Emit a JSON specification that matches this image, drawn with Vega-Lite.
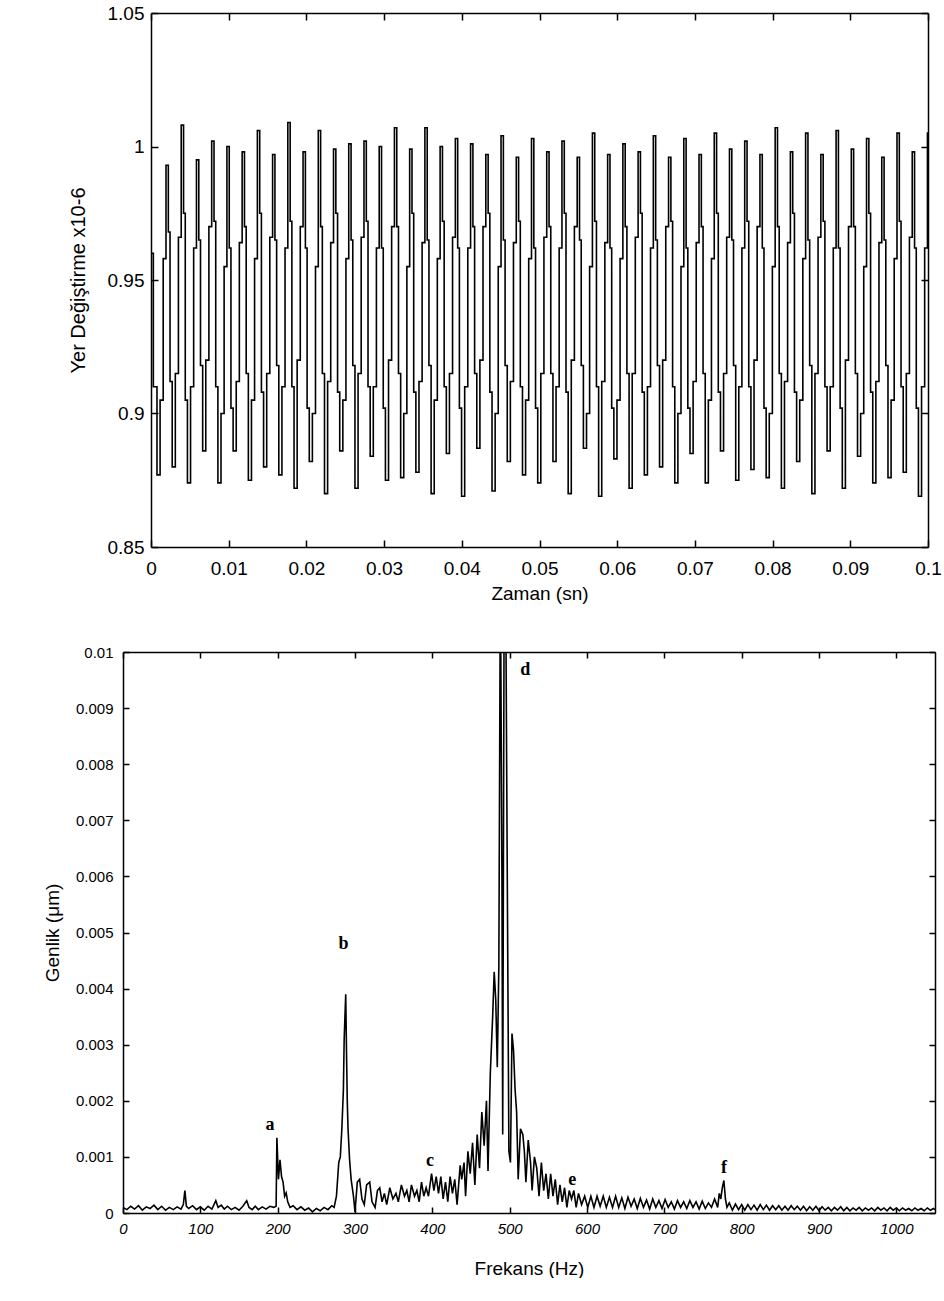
{
  "$schema": "https://vega.github.io/schema/vega-lite/v6.json",
  "background": "white",
  "padding": {"left": 36, "top": 4, "right": 0, "bottom": 0},
  "spacing": 42,
  "config": {
    "view": {"stroke": null},
    "axis": {"grid": false, "domainColor": "#000", "tickColor": "#000", "labelColor": "#000", "titleColor": "#000", "titleFontWeight": "normal", "labelFont": "Liberation Sans", "titleFont": "Liberation Sans", "domainWidth": 1.5, "tickWidth": 1.5, "labelFlush": false, "labelOverlap": false}
  },
  "vconcat": [
    {
      "spacing": 25,
      "hconcat": [
        {"width": 1, "height": 10, "data": {"values": [{"s": 0}]}, "mark": {"type": "point", "opacity": 0}, "encoding": {}},
        {
          "width": 777,
          "height": 534,
          "data": {"values": [
            {"t":0,"v":0.96},{"t":0.0003,"v":0.91},
            {"t":0.00077,"v":0.877},{"t":0.00117,"v":0.905},{"t":0.00157,"v":0.958},{"t":0.00193,"v":0.993},{"t":0.00223,"v":0.968},{"t":0.00245,"v":0.912},
            {"t":0.00273,"v":0.88},{"t":0.00313,"v":0.915},{"t":0.00353,"v":0.966},{"t":0.00389,"v":1.008},{"t":0.00419,"v":0.975},{"t":0.00441,"v":0.905},
            {"t":0.00469,"v":0.874},{"t":0.00509,"v":0.91},{"t":0.00549,"v":0.962},{"t":0.00585,"v":0.995},{"t":0.00615,"v":0.965},{"t":0.00637,"v":0.918},
            {"t":0.00665,"v":0.886},{"t":0.00705,"v":0.92},{"t":0.00745,"v":0.97},{"t":0.00781,"v":1.002},{"t":0.00811,"v":0.972},{"t":0.00833,"v":0.91},
            {"t":0.00861,"v":0.874},{"t":0.00901,"v":0.9},{"t":0.00941,"v":0.955},{"t":0.00977,"v":1.0},{"t":0.01007,"v":0.962},{"t":0.01029,"v":0.902},
            {"t":0.01057,"v":0.886},{"t":0.01097,"v":0.912},{"t":0.01137,"v":0.964},{"t":0.01173,"v":0.998},{"t":0.01203,"v":0.97},{"t":0.01225,"v":0.915},
            {"t":0.01253,"v":0.875},{"t":0.01293,"v":0.905},{"t":0.01333,"v":0.958},{"t":0.01369,"v":1.006},{"t":0.01399,"v":0.975},{"t":0.01421,"v":0.908},
            {"t":0.01449,"v":0.88},{"t":0.01489,"v":0.915},{"t":0.01529,"v":0.966},{"t":0.01565,"v":0.997},{"t":0.01595,"v":0.965},{"t":0.01617,"v":0.918},
            {"t":0.01645,"v":0.877},{"t":0.01685,"v":0.91},{"t":0.01725,"v":0.962},{"t":0.01761,"v":1.009},{"t":0.01791,"v":0.972},{"t":0.01813,"v":0.91},
            {"t":0.01841,"v":0.872},{"t":0.01881,"v":0.92},{"t":0.01921,"v":0.97},{"t":0.01957,"v":0.998},{"t":0.01987,"v":0.962},{"t":0.02009,"v":0.902},
            {"t":0.02037,"v":0.882},{"t":0.02077,"v":0.9},{"t":0.02117,"v":0.955},{"t":0.02153,"v":1.006},{"t":0.02183,"v":0.97},{"t":0.02205,"v":0.915},
            {"t":0.02233,"v":0.87},{"t":0.02273,"v":0.912},{"t":0.02313,"v":0.964},{"t":0.02349,"v":0.999},{"t":0.02379,"v":0.975},{"t":0.02401,"v":0.908},
            {"t":0.02429,"v":0.886},{"t":0.02469,"v":0.905},{"t":0.02509,"v":0.958},{"t":0.02545,"v":1.001},{"t":0.02575,"v":0.965},{"t":0.02597,"v":0.918},
            {"t":0.02625,"v":0.872},{"t":0.02665,"v":0.915},{"t":0.02705,"v":0.966},{"t":0.02741,"v":1.002},{"t":0.02771,"v":0.972},{"t":0.02793,"v":0.91},
            {"t":0.02821,"v":0.884},{"t":0.02861,"v":0.91},{"t":0.02901,"v":0.962},{"t":0.02937,"v":1.0},{"t":0.02967,"v":0.962},{"t":0.02989,"v":0.902},
            {"t":0.03017,"v":0.875},{"t":0.03057,"v":0.92},{"t":0.03097,"v":0.97},{"t":0.03133,"v":1.007},{"t":0.03163,"v":0.97},{"t":0.03185,"v":0.915},
            {"t":0.03213,"v":0.876},{"t":0.03253,"v":0.9},{"t":0.03293,"v":0.955},{"t":0.03329,"v":0.999},{"t":0.03359,"v":0.975},{"t":0.03381,"v":0.908},
            {"t":0.03409,"v":0.878},{"t":0.03449,"v":0.912},{"t":0.03489,"v":0.964},{"t":0.03525,"v":1.007},{"t":0.03555,"v":0.965},{"t":0.03577,"v":0.918},
            {"t":0.03605,"v":0.87},{"t":0.03645,"v":0.905},{"t":0.03685,"v":0.958},{"t":0.03721,"v":1.0},{"t":0.03751,"v":0.972},{"t":0.03773,"v":0.91},
            {"t":0.03801,"v":0.885},{"t":0.03841,"v":0.915},{"t":0.03881,"v":0.966},{"t":0.03917,"v":1.003},{"t":0.03947,"v":0.962},{"t":0.03969,"v":0.902},
            {"t":0.03997,"v":0.869},{"t":0.04037,"v":0.91},{"t":0.04077,"v":0.962},{"t":0.04113,"v":1.001},{"t":0.04143,"v":0.97},{"t":0.04165,"v":0.915},
            {"t":0.04193,"v":0.887},{"t":0.04233,"v":0.92},{"t":0.04273,"v":0.97},{"t":0.04309,"v":0.997},{"t":0.04339,"v":0.975},{"t":0.04361,"v":0.908},
            {"t":0.04389,"v":0.871},{"t":0.04429,"v":0.9},{"t":0.04469,"v":0.955},{"t":0.04505,"v":1.004},{"t":0.04535,"v":0.965},{"t":0.04557,"v":0.918},
            {"t":0.04585,"v":0.882},{"t":0.04625,"v":0.912},{"t":0.04665,"v":0.964},{"t":0.04701,"v":0.996},{"t":0.04731,"v":0.972},{"t":0.04753,"v":0.91},
            {"t":0.04781,"v":0.877},{"t":0.04821,"v":0.905},{"t":0.04861,"v":0.958},{"t":0.04897,"v":1.003},{"t":0.04927,"v":0.962},{"t":0.04949,"v":0.902},
            {"t":0.04977,"v":0.874},{"t":0.05017,"v":0.915},{"t":0.05057,"v":0.966},{"t":0.05093,"v":0.998},{"t":0.05123,"v":0.97},{"t":0.05145,"v":0.915},
            {"t":0.05173,"v":0.882},{"t":0.05213,"v":0.91},{"t":0.05253,"v":0.962},{"t":0.05289,"v":1.002},{"t":0.05319,"v":0.975},{"t":0.05341,"v":0.908},
            {"t":0.05369,"v":0.87},{"t":0.05409,"v":0.92},{"t":0.05449,"v":0.97},{"t":0.05485,"v":0.996},{"t":0.05515,"v":0.965},{"t":0.05537,"v":0.918},
            {"t":0.05565,"v":0.887},{"t":0.05605,"v":0.9},{"t":0.05645,"v":0.955},{"t":0.05681,"v":1.005},{"t":0.05711,"v":0.972},{"t":0.05733,"v":0.91},
            {"t":0.05761,"v":0.869},{"t":0.05801,"v":0.912},{"t":0.05841,"v":0.964},{"t":0.05877,"v":0.997},{"t":0.05907,"v":0.962},{"t":0.05929,"v":0.902},
            {"t":0.05957,"v":0.883},{"t":0.05997,"v":0.905},{"t":0.06037,"v":0.958},{"t":0.06073,"v":1.001},{"t":0.06103,"v":0.97},{"t":0.06125,"v":0.915},
            {"t":0.06153,"v":0.872},{"t":0.06193,"v":0.915},{"t":0.06233,"v":0.966},{"t":0.06269,"v":0.998},{"t":0.06299,"v":0.975},{"t":0.06321,"v":0.908},
            {"t":0.06349,"v":0.877},{"t":0.06389,"v":0.91},{"t":0.06429,"v":0.962},{"t":0.06465,"v":1.004},{"t":0.06495,"v":0.965},{"t":0.06517,"v":0.918},
            {"t":0.06545,"v":0.88},{"t":0.06585,"v":0.92},{"t":0.06625,"v":0.97},{"t":0.06661,"v":0.996},{"t":0.06691,"v":0.972},{"t":0.06713,"v":0.91},
            {"t":0.06741,"v":0.874},{"t":0.06781,"v":0.9},{"t":0.06821,"v":0.955},{"t":0.06857,"v":1.003},{"t":0.06887,"v":0.962},{"t":0.06909,"v":0.902},
            {"t":0.06937,"v":0.885},{"t":0.06977,"v":0.912},{"t":0.07017,"v":0.964},{"t":0.07053,"v":0.997},{"t":0.07083,"v":0.97},{"t":0.07105,"v":0.915},
            {"t":0.07133,"v":0.874},{"t":0.07173,"v":0.905},{"t":0.07213,"v":0.958},{"t":0.07249,"v":1.005},{"t":0.07279,"v":0.975},{"t":0.07301,"v":0.908},
            {"t":0.07329,"v":0.886},{"t":0.07369,"v":0.915},{"t":0.07409,"v":0.966},{"t":0.07445,"v":0.999},{"t":0.07475,"v":0.965},{"t":0.07497,"v":0.918},
            {"t":0.07525,"v":0.875},{"t":0.07565,"v":0.91},{"t":0.07605,"v":0.962},{"t":0.07641,"v":1.002},{"t":0.07671,"v":0.972},{"t":0.07693,"v":0.91},
            {"t":0.07721,"v":0.879},{"t":0.07761,"v":0.92},{"t":0.07801,"v":0.97},{"t":0.07837,"v":0.997},{"t":0.07867,"v":0.962},{"t":0.07889,"v":0.902},
            {"t":0.07917,"v":0.876},{"t":0.07957,"v":0.9},{"t":0.07997,"v":0.955},{"t":0.08033,"v":1.007},{"t":0.08063,"v":0.97},{"t":0.08085,"v":0.915},
            {"t":0.08113,"v":0.872},{"t":0.08153,"v":0.912},{"t":0.08193,"v":0.964},{"t":0.08229,"v":0.998},{"t":0.08259,"v":0.975},{"t":0.08281,"v":0.908},
            {"t":0.08309,"v":0.882},{"t":0.08349,"v":0.905},{"t":0.08389,"v":0.958},{"t":0.08425,"v":1.005},{"t":0.08455,"v":0.965},{"t":0.08477,"v":0.918},
            {"t":0.08505,"v":0.87},{"t":0.08545,"v":0.915},{"t":0.08585,"v":0.966},{"t":0.08621,"v":0.997},{"t":0.08651,"v":0.972},{"t":0.08673,"v":0.91},
            {"t":0.08701,"v":0.886},{"t":0.08741,"v":0.91},{"t":0.08781,"v":0.962},{"t":0.08817,"v":1.006},{"t":0.08847,"v":0.962},{"t":0.08869,"v":0.902},
            {"t":0.08897,"v":0.872},{"t":0.08937,"v":0.92},{"t":0.08977,"v":0.97},{"t":0.09013,"v":0.999},{"t":0.09043,"v":0.97},{"t":0.09065,"v":0.915},
            {"t":0.09093,"v":0.884},{"t":0.09133,"v":0.9},{"t":0.09173,"v":0.955},{"t":0.09209,"v":1.003},{"t":0.09239,"v":0.975},{"t":0.09261,"v":0.908},
            {"t":0.09289,"v":0.874},{"t":0.09329,"v":0.912},{"t":0.09369,"v":0.964},{"t":0.09405,"v":0.996},{"t":0.09435,"v":0.965},{"t":0.09457,"v":0.918},
            {"t":0.09485,"v":0.876},{"t":0.09525,"v":0.905},{"t":0.09565,"v":0.958},{"t":0.09601,"v":1.005},{"t":0.09631,"v":0.972},{"t":0.09653,"v":0.91},
            {"t":0.09681,"v":0.878},{"t":0.09721,"v":0.915},{"t":0.09761,"v":0.966},{"t":0.09797,"v":0.998},{"t":0.09827,"v":0.962},{"t":0.09849,"v":0.902},
            {"t":0.09877,"v":0.869},{"t":0.09917,"v":0.91},{"t":0.09957,"v":0.962},{"t":0.09993,"v":1.005},{"t":0.1,"v":0.99}
          ]},
          "layer": [
            {
              "mark": {"type": "line", "interpolate": "step-after", "color": "#000", "strokeWidth": 1.6, "clip": true},
              "encoding": {
                "x": {"field": "t", "type": "quantitative", "scale": {"domain": [0, 0.1], "nice": false, "zero": false},
                  "axis": {"orient": "bottom", "values": [0,0.01,0.02,0.03,0.04,0.05,0.06,0.07,0.08,0.09,0.1], "format": "~g", "title": "Zaman (sn)", "labelFontSize": 19, "titleFontSize": 19, "tickSize": -7, "labelPadding": 19, "titlePadding": 7, "minExtent": 30, "maxExtent": 30}},
                "y": {"field": "v", "type": "quantitative", "scale": {"domain": [0.85, 1.05], "nice": false, "zero": false},
                  "axis": {"orient": "left", "values": [0.85,0.9,0.95,1,1.05], "format": "~g", "title": "Yer Değiştirme x10-6", "labelFontSize": 19, "titleFontSize": 20, "tickSize": -7, "labelPadding": 14, "titlePadding": 17, "minExtent": 46, "maxExtent": 46}}
              }
            },
            {
              "mark": {"type": "line", "opacity": 0},
              "encoding": {
                "x": {"field": "t", "type": "quantitative", "scale": {"domain": [0, 0.1], "nice": false, "zero": false},
                  "axis": {"orient": "top", "values": [0,0.01,0.02,0.03,0.04,0.05,0.06,0.07,0.08,0.09,0.1], "labels": false, "title": null, "tickSize": -7}},
                "y": {"field": "v", "type": "quantitative", "scale": {"domain": [0.85, 1.05], "nice": false, "zero": false},
                  "axis": {"orient": "right", "values": [0.85,0.9,0.95,1,1.05], "labels": false, "title": null, "tickSize": -7}}
              }
            }
          ],
          "resolve": {"axis": {"x": "independent", "y": "independent"}}
        }
      ]
    },
    {
      "spacing": 0,
      "hconcat": [
        {"width": 1, "height": 10, "data": {"values": [{"s": 0}]}, "mark": {"type": "point", "opacity": 0}, "encoding": {}},
        {
          "width": 812,
          "height": 561,
          "layer": [
            {
              "data": {"values": [
                {"f":0,"a":0.0001},{"f":5,"a":0.00006},{"f":10,"a":0.00012},{"f":15,"a":0.00007},{"f":20,"a":0.00013},{"f":25,"a":0.00005},{"f":30,"a":0.00011},{"f":35,"a":0.00008},{"f":40,"a":0.00014},{"f":45,"a":0.00006},
                {"f":50,"a":0.00012},{"f":55,"a":0.00005},{"f":60,"a":0.0001},{"f":65,"a":0.00006},{"f":70,"a":0.00011},{"f":75,"a":0.00007},{"f":78,"a":0.00015},{"f":80,"a":0.0004},{"f":82,"a":0.00012},{"f":85,"a":0.00008},
                {"f":90,"a":0.00013},{"f":95,"a":0.00006},{"f":100,"a":0.00011},{"f":105,"a":0.00005},{"f":110,"a":0.00012},{"f":115,"a":0.00007},{"f":120,"a":0.00022},{"f":123,"a":0.0001},{"f":127,"a":0.00014},{"f":131,"a":0.00007},
                {"f":135,"a":0.00012},{"f":140,"a":0.00006},{"f":145,"a":0.0001},{"f":150,"a":0.00005},{"f":155,"a":0.00012},{"f":160,"a":0.00022},{"f":163,"a":0.0001},{"f":167,"a":0.00006},{"f":171,"a":0.00012},{"f":175,"a":0.00006},
                {"f":180,"a":0.00011},{"f":185,"a":0.00007},{"f":190,"a":0.00012},{"f":195,"a":0.0001},{"f":198,"a":0.00012},{"f":199,"a":0.00134},{"f":201,"a":0.0006},{"f":203,"a":0.00095},{"f":205,"a":0.00065},{"f":207,"a":0.00055},
                {"f":209,"a":0.0003},{"f":211,"a":0.00036},{"f":213,"a":0.0002},{"f":216,"a":0.0001},{"f":220,"a":0.00013},{"f":225,"a":0.00006},{"f":230,"a":0.00011},{"f":235,"a":0.00005},{"f":240,"a":0.00009},{"f":245,"a":0.00002},
                {"f":250,"a":0.00008},{"f":255,"a":0.00004},{"f":260,"a":0.0001},{"f":265,"a":0.00006},{"f":270,"a":0.00013},{"f":273,"a":0.0001},{"f":276,"a":0.0003},{"f":279,"a":0.0009},{"f":281,"a":0.001},{"f":283,"a":0.0015},
                {"f":285,"a":0.0022},{"f":286,"a":0.0031},{"f":288,"a":0.0039},{"f":289,"a":0.0029},{"f":290,"a":0.002},{"f":291,"a":0.0015},{"f":293,"a":0.00095},{"f":295,"a":0.0006},{"f":298,"a":0.0003},{"f":300,"a":0.00002},
                {"f":303,"a":0.00055},{"f":306,"a":0.0006},{"f":309,"a":0.00025},{"f":312,"a":0.00015},{"f":315,"a":0.0005},{"f":319,"a":0.00055},{"f":322,"a":0.0002},{"f":326,"a":0.0001},{"f":329,"a":0.0004},{"f":332,"a":0.00045},
                {"f":335,"a":0.0002},{"f":338,"a":0.00035},{"f":341,"a":0.00015},{"f":345,"a":0.00045},{"f":349,"a":0.00025},{"f":353,"a":0.00035},{"f":356,"a":0.0002},{"f":360,"a":0.0005},{"f":364,"a":0.0003},{"f":367,"a":0.0004},
                {"f":370,"a":0.0002},{"f":373,"a":0.0005},{"f":377,"a":0.0003},{"f":380,"a":0.0004},{"f":383,"a":0.0002},{"f":386,"a":0.00055},{"f":389,"a":0.0003},{"f":392,"a":0.00045},{"f":395,"a":0.0003},{"f":399,"a":0.0007},
                {"f":402,"a":0.0004},{"f":405,"a":0.00065},{"f":408,"a":0.00035},{"f":411,"a":0.00065},{"f":414,"a":0.00025},{"f":417,"a":0.00055},{"f":420,"a":0.0002},{"f":423,"a":0.00065},{"f":426,"a":0.00035},{"f":429,"a":0.0006},
                {"f":432,"a":0.00015},{"f":436,"a":0.00085},{"f":438,"a":0.0006},{"f":441,"a":0.0009},{"f":443,"a":0.0003},{"f":446,"a":0.0011},{"f":449,"a":0.0007},{"f":452,"a":0.00125},{"f":455,"a":0.0005},{"f":458,"a":0.0014},
                {"f":461,"a":0.0008},{"f":464,"a":0.0018},{"f":467,"a":0.0012},{"f":470,"a":0.002},{"f":472,"a":0.00075},{"f":475,"a":0.0025},{"f":478,"a":0.0035},{"f":480,"a":0.0043},{"f":482,"a":0.0038},{"f":484,"a":0.0026},
                {"f":486,"a":0.0044},{"f":488,"a":0.0115},{"f":490,"a":0.006},{"f":491,"a":0.0014},{"f":493,"a":0.0118},{"f":495,"a":0.0108},{"f":497,"a":0.0058},{"f":499,"a":0.0011},{"f":501,"a":0.0009},{"f":503,"a":0.0032},
                {"f":505,"a":0.0029},{"f":507,"a":0.0022},{"f":509,"a":0.0018},{"f":511,"a":0.0006},{"f":514,"a":0.0015},{"f":517,"a":0.0014},{"f":519,"a":0.0011},{"f":521,"a":0.00055},{"f":524,"a":0.0013},{"f":527,"a":0.0009},
                {"f":529,"a":0.0004},{"f":532,"a":0.001},{"f":535,"a":0.0008},{"f":538,"a":0.0003},{"f":541,"a":0.0009},{"f":544,"a":0.0004},{"f":547,"a":0.0007},{"f":550,"a":0.00025},{"f":553,"a":0.0007},{"f":556,"a":0.0003},
                {"f":559,"a":0.0006},{"f":562,"a":0.00015},{"f":565,"a":0.0005},{"f":568,"a":0.0002},{"f":571,"a":0.00045},{"f":574,"a":0.0001},{"f":577,"a":0.0004},{"f":580,"a":0.00025},{"f":583,"a":0.0004},{"f":586,"a":0.0001},
                {"f":589,"a":0.00035},{"f":593,"a":0.00015},{"f":597,"a":0.0003},{"f":601,"a":0.0001},{"f":605,"a":0.0003},{"f":609,"a":0.0001},{"f":613,"a":0.0003},{"f":617,"a":0.00012},{"f":621,"a":0.0003},{"f":625,"a":0.0001},
                {"f":629,"a":0.00028},{"f":633,"a":0.0001},{"f":637,"a":0.0003},{"f":641,"a":0.0001},{"f":645,"a":0.00027},{"f":649,"a":0.00008},{"f":653,"a":0.00028},{"f":657,"a":0.00012},{"f":661,"a":0.00025},{"f":665,"a":0.00008},
                {"f":669,"a":0.00026},{"f":673,"a":0.0001},{"f":677,"a":0.00023},{"f":681,"a":0.00007},{"f":685,"a":0.00025},{"f":689,"a":0.0001},{"f":693,"a":0.00022},{"f":697,"a":0.00008},{"f":701,"a":0.00024},{"f":705,"a":0.0001},
                {"f":709,"a":0.0002},{"f":713,"a":0.00007},{"f":717,"a":0.00022},{"f":721,"a":0.0001},{"f":725,"a":0.0002},{"f":729,"a":0.00008},{"f":733,"a":0.00022},{"f":737,"a":0.0001},{"f":741,"a":0.0002},{"f":745,"a":0.00007},
                {"f":749,"a":0.00021},{"f":753,"a":0.00008},{"f":757,"a":0.00018},{"f":761,"a":0.0001},{"f":765,"a":0.00025},{"f":769,"a":0.0001},{"f":771,"a":0.00035},{"f":773,"a":0.00025},{"f":775,"a":0.00045},{"f":777,"a":0.00058},
                {"f":779,"a":0.00025},{"f":781,"a":0.0001},{"f":784,"a":0.00018},{"f":788,"a":0.00005},{"f":792,"a":0.00016},{"f":796,"a":0.00006},{"f":800,"a":0.00015},{"f":804,"a":0.00005},{"f":808,"a":0.00015},{"f":812,"a":0.00006},
                {"f":816,"a":0.00014},{"f":820,"a":0.00005},{"f":824,"a":0.00015},{"f":828,"a":0.00006},{"f":832,"a":0.00014},{"f":836,"a":0.00005},{"f":840,"a":0.00013},{"f":844,"a":0.00006},{"f":848,"a":0.00013},{"f":852,"a":0.00005},
                {"f":856,"a":0.00012},{"f":860,"a":0.00005},{"f":864,"a":0.00013},{"f":868,"a":0.00006},{"f":872,"a":0.00012},{"f":876,"a":0.00005},{"f":880,"a":0.00012},{"f":884,"a":0.00004},{"f":888,"a":0.00011},{"f":892,"a":0.00005},
                {"f":896,"a":0.00012},{"f":900,"a":0.00004},{"f":904,"a":0.00011},{"f":908,"a":0.00005},{"f":912,"a":0.0001},{"f":916,"a":0.00004},{"f":920,"a":0.0001},{"f":924,"a":0.00005},{"f":928,"a":0.00011},{"f":932,"a":0.00004},
                {"f":936,"a":0.0001},{"f":940,"a":0.00004},{"f":944,"a":0.00009},{"f":948,"a":0.00005},{"f":952,"a":0.0001},{"f":956,"a":0.00004},{"f":960,"a":0.00009},{"f":964,"a":0.00005},{"f":968,"a":0.00009},{"f":972,"a":0.00004},
                {"f":976,"a":0.0001},{"f":980,"a":0.00005},{"f":984,"a":0.00009},{"f":988,"a":0.00004},{"f":992,"a":0.0001},{"f":996,"a":0.00005},{"f":1000,"a":0.00009},{"f":1004,"a":0.00004},{"f":1008,"a":0.00009},{"f":1012,"a":0.00005},
                {"f":1016,"a":0.00008},{"f":1020,"a":0.00004},{"f":1024,"a":0.00009},{"f":1028,"a":0.00005},{"f":1032,"a":0.00008},{"f":1036,"a":0.00004},{"f":1040,"a":0.00009},{"f":1044,"a":0.00005},{"f":1048,"a":0.00008},{"f":1050,"a":0.00006}
              ]},
              "mark": {"type": "line", "color": "#000", "strokeWidth": 1.6, "clip": true},
              "encoding": {
                "x": {"field": "f", "type": "quantitative", "scale": {"domain": [0, 1050], "nice": false, "zero": false},
                  "axis": {"orient": "bottom", "values": [0,100,200,300,400,500,600,700,800,900,1000], "format": "d", "title": "Frekans (Hz)", "labelFontSize": 15, "labelFontStyle": "italic", "titleFontSize": 19, "tickSize": -6, "labelPadding": 14, "titlePadding": 21, "minExtent": 25, "maxExtent": 25}},
                "y": {"field": "a", "type": "quantitative", "scale": {"domain": [0, 0.01], "nice": false, "zero": false},
                  "axis": {"orient": "left", "values": [0,0.001,0.002,0.003,0.004,0.005,0.006,0.007,0.008,0.009,0.01], "format": "~g", "title": "Genlik (μm)", "labelFontSize": 15, "titleFontSize": 19, "tickSize": -6, "labelPadding": 16, "titlePadding": 13, "minExtent": 48, "maxExtent": 48}}
              }
            },
            {
              "data": {"values": [
                {"f":190,"a":0.00157,"k":"a"},
                {"f":285,"a":0.0048,"k":"b"},
                {"f":397,"a":0.00093,"k":"c"},
                {"f":520,"a":0.00968,"k":"d"},
                {"f":581,"a":0.00059,"k":"e"},
                {"f":777,"a":0.0008,"k":"f"}
              ]},
              "mark": {"type": "text", "font": "Liberation Serif", "fontWeight": "bold", "fontSize": 18, "color": "#000", "align": "center", "baseline": "middle"},
              "encoding": {
                "x": {"field": "f", "type": "quantitative", "scale": {"domain": [0, 1050], "nice": false, "zero": false},
                  "axis": {"orient": "top", "values": [0,100,200,300,400,500,600,700,800,900,1000], "labels": false, "title": null, "tickSize": -6}},
                "y": {"field": "a", "type": "quantitative", "scale": {"domain": [0, 0.01], "nice": false, "zero": false},
                  "axis": {"orient": "right", "values": [0,0.001,0.002,0.003,0.004,0.005,0.006,0.007,0.008,0.009,0.01], "labels": false, "title": null, "tickSize": -6}},
                "text": {"field": "k", "type": "nominal"}
              }
            }
          ],
          "resolve": {"axis": {"x": "independent", "y": "independent"}}
        }
      ]
    }
  ]
}
